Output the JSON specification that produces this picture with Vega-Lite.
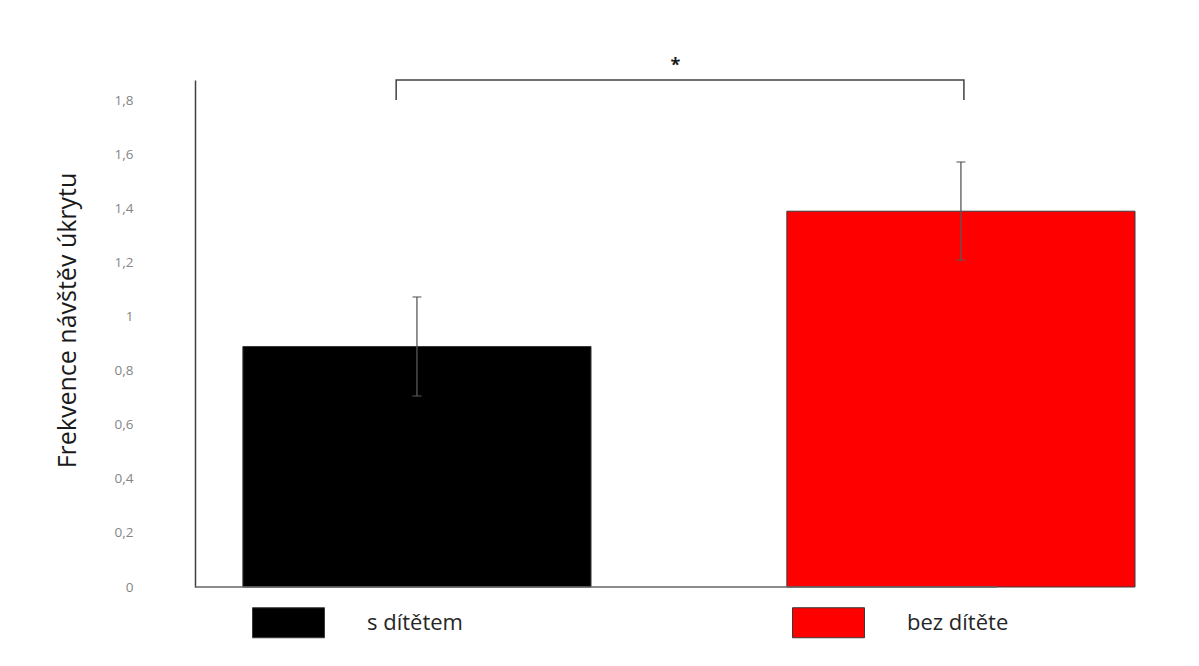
{
  "$schema": "https://vega.github.io/schema/vega-lite/v6.json",
  "width": 940,
  "height": 507,
  "autosize": {"type": "none"},
  "padding": {"left": 195, "top": 80, "right": 64, "bottom": 79},
  "background": "white",
  "config": {"view": {"stroke": null}, "font": "Open Sans"},
  "datasets": {
    "bars": [
      {"g": "s dítětem", "m": 0.889, "lo": 0.706, "hi": 1.072},
      {"g": "bez dítěte", "m": 1.389, "lo": 1.208, "hi": 1.571}
    ],
    "bracket": [
      {"x": 0.214, "y": 1.80, "o": 1},
      {"x": 0.214, "y": 1.874, "o": 2},
      {"x": 0.818, "y": 1.874, "o": 3},
      {"x": 0.818, "y": 1.80, "o": 4}
    ],
    "base": [{"x": 0, "x2": 0.853, "y": 0}],
    "star": [{"x": 0.511, "y": 1.925, "t": "*"}]
  },
  "resolve": {"scale": {"x": "independent"}},
  "encoding": {
    "y": {
      "type": "quantitative",
      "scale": {"domain": [0, 1.874], "nice": false, "zero": true}
    }
  },
  "layer": [
    {
      "data": {"name": "bars"},
      "mark": {"type": "bar", "stroke": "#3a3a3a", "strokeWidth": 1},
      "encoding": {
        "x": {
          "field": "g", "type": "nominal", "sort": null,
          "scale": {"paddingInner": 0.36, "paddingOuter": 0.044, "align": 1},
          "axis": null
        },
        "y": {
          "field": "m", "type": "quantitative",
          "scale": {"domain": [0, 1.874], "nice": false, "zero": true},
          "axis": {
            "values": [0, 0.2, 0.4, 0.6, 0.8, 1, 1.2, 1.4, 1.6, 1.8],
            "labelExpr": "replace(format(datum.value, '.1~f'), '.', ',')",
            "grid": false,
            "ticks": false,
            "tickSize": 0,
            "labelPadding": 62,
            "labelFont": "Open Sans",
            "labelFontSize": 13.5,
            "labelColor": "#858585",
            "domainColor": "#404040",
            "domainWidth": 1.5,
            "title": "Frekvence návštěv úkrytu",
            "titleFont": "Open Sans",
            "titleFontSize": 25,
            "titleFontWeight": "normal",
            "titleColor": "#1a1a1a",
            "titleAngle": 270,
            "titleX": -120,
            "titleY": 240,
            "titleAlign": "center",
            "titleBaseline": "alphabetic"
          }
        },
        "color": {
          "field": "g", "type": "nominal", "sort": null,
          "scale": {"domain": ["s dítětem", "bez dítěte"], "range": ["#000000", "#ff0000"]},
          "legend": {
            "orient": "none",
            "direction": "horizontal",
            "columns": 2,
            "legendX": 57,
            "legendY": 506,
            "padding": 0,
            "title": null,
            "symbolType": "M-1,-0.4167H1V0.4167H-1Z",
            "symbolSize": 5184,
            "symbolStrokeColor": "#3a3a3a",
            "symbolStrokeWidth": 1,
            "symbolOpacity": 1,
            "labelFont": "Open Sans",
            "labelFontSize": 22,
            "labelColor": "#262626",
            "labelOffset": 42,
            "columnPadding": 327,
            "labelLimit": 300
          }
        }
      }
    },
    {
      "data": {"name": "bars"},
      "mark": {"type": "rule", "color": "#595959", "strokeWidth": 1.3},
      "encoding": {
        "x": {"field": "g", "type": "nominal", "sort": null,
              "scale": {"paddingInner": 0.36, "paddingOuter": 0.044, "align": 1}, "axis": null},
        "y": {"field": "lo", "type": "quantitative"},
        "y2": {"field": "hi"}
      }
    },
    {
      "data": {"name": "bars"},
      "mark": {"type": "tick", "color": "#595959", "size": 9, "thickness": 1.5, "orient": "horizontal"},
      "encoding": {
        "x": {"field": "g", "type": "nominal", "sort": null,
              "scale": {"paddingInner": 0.36, "paddingOuter": 0.044, "align": 1}, "axis": null},
        "y": {"field": "hi", "type": "quantitative"}
      }
    },
    {
      "data": {"name": "bars"},
      "mark": {"type": "tick", "color": "#595959", "size": 9, "thickness": 1.5, "orient": "horizontal"},
      "encoding": {
        "x": {"field": "g", "type": "nominal", "sort": null,
              "scale": {"paddingInner": 0.36, "paddingOuter": 0.044, "align": 1}, "axis": null},
        "y": {"field": "lo", "type": "quantitative"}
      }
    },
    {
      "data": {"name": "base"},
      "mark": {"type": "rule", "color": "#666666", "strokeWidth": 1.5},
      "encoding": {
        "x": {"field": "x", "type": "quantitative", "scale": {"domain": [0, 1]}, "axis": null},
        "x2": {"field": "x2"},
        "y": {"field": "y", "type": "quantitative"}
      }
    },
    {
      "data": {"name": "bracket"},
      "mark": {"type": "line", "color": "#404040", "strokeWidth": 1.5, "clip": false},
      "encoding": {
        "x": {"field": "x", "type": "quantitative", "scale": {"domain": [0, 1]}, "axis": null},
        "y": {"field": "y", "type": "quantitative"},
        "order": {"field": "o"}
      }
    },
    {
      "data": {"name": "star"},
      "mark": {"type": "text", "fontSize": 18, "fontWeight": "bold", "color": "#1a1a1a", "baseline": "middle", "clip": false},
      "encoding": {
        "x": {"field": "x", "type": "quantitative", "scale": {"domain": [0, 1]}, "axis": null},
        "y": {"field": "y", "type": "quantitative"},
        "text": {"field": "t"}
      }
    }
  ]
}
